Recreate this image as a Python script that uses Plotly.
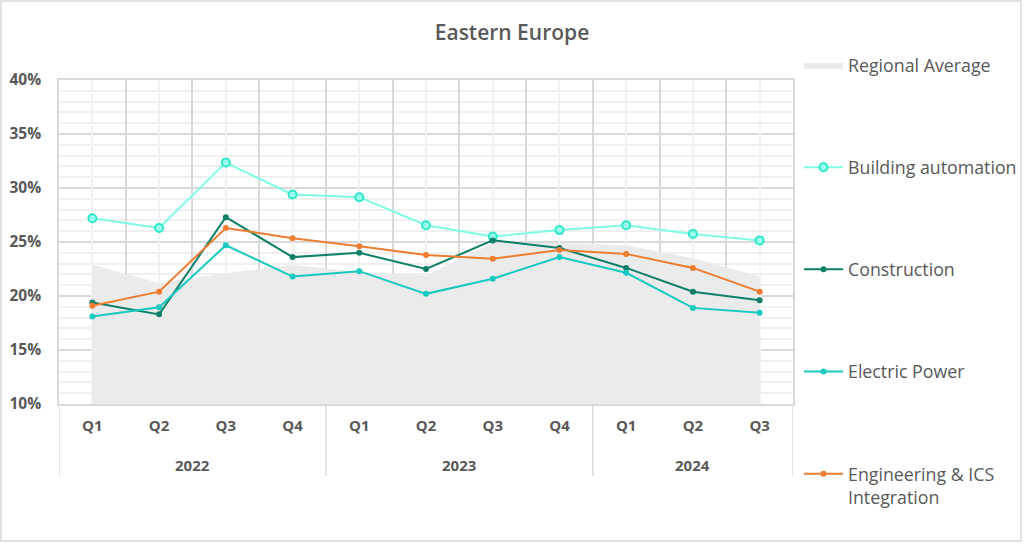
import plotly.graph_objects as go

years = ["2022"] * 4 + ["2023"] * 4 + ["2024"] * 3
quarters = ["Q1", "Q2", "Q3", "Q4", "Q1", "Q2", "Q3", "Q4", "Q1", "Q2", "Q3"]

regional_average = [22.9, 21.2, 22.1, 22.9, 22.2, 21.9, 24.9, 24.9, 24.7, 23.5, 21.8]
building_automation = [27.2, 26.3, 32.35, 29.4, 29.15, 26.55, 25.5, 26.1, 26.55, 25.75, 25.15]
construction = [19.4, 18.3, 27.3, 23.6, 24.0, 22.5, 25.15, 24.45, 22.6, 20.4, 19.6]
electric_power = [18.1, 18.95, 24.7, 21.8, 22.3, 20.2, 21.6, 23.6, 22.15, 18.9, 18.45]
engineering = [19.1, 20.4, 26.3, 25.35, 24.6, 23.8, 23.45, 24.25, 23.9, 22.6, 20.4]

flat_labels = [f"{y} {q}" for y, q in zip(years, quarters)]

# year groups (derived from the years list): name, start index, end index
groups = []
for i, yv in enumerate(years):
    if groups and groups[-1][0] == yv:
        groups[-1][2] = i
    else:
        groups.append([yv, i, i])

FONT = "Open Sans"
TXT = "#595959"
GRID = "#D9D9D9"

fig = go.Figure()

# invisible helper trace for the light vertical gridlines at category centres
fig.add_trace(go.Scatter(x=flat_labels, y=regional_average, xaxis="x2", mode="lines",
                         line=dict(width=0), opacity=0, showlegend=False, hoverinfo="skip"))

fig.add_trace(go.Scatter(x=flat_labels, y=regional_average, name="Regional Average", mode="lines",
                         fill="tozeroy", fillcolor="#EBEBEB", line=dict(width=0, color="#EBEBEB"),
                         legendgroup="a"))
fig.add_trace(go.Scatter(x=flat_labels, y=building_automation, name="Building automation",
                         mode="lines+markers", line=dict(color="#7DFCE6", width=2),
                         marker=dict(size=8, color="#9CFFEE", line=dict(color="#2DE8C9", width=2)),
                         legendgroup="b"))
fig.add_trace(go.Scatter(x=flat_labels, y=construction, name="Construction", mode="lines+markers",
                         line=dict(color="#0E8068", width=2),
                         marker=dict(size=6, color="#0E8068"),
                         legendgroup="c"))
fig.add_trace(go.Scatter(x=flat_labels, y=electric_power, name="Electric Power", mode="lines+markers",
                         line=dict(color="#17C9BF", width=2),
                         marker=dict(size=6, color="#17C9BF"),
                         legendgroup="d"))
fig.add_trace(go.Scatter(x=flat_labels, y=engineering, name="Engineering & ICS<br>Integration",
                         mode="lines+markers", line=dict(color="#EE7D31", width=2),
                         marker=dict(size=6, color="#EE7D31"),
                         legendgroup="e"))

fig.update_layout(
    width=1024, height=544,
    margin=dict(l=59, r=231, t=80, b=140, autoexpand=False),
    paper_bgcolor="white", plot_bgcolor="white",
    font=dict(family=FONT, color=TXT, size=15),
    title=dict(text="Eastern Europe", x=0.5, xref="container", xanchor="center",
               y=1 - 33 / 544, yref="container", yanchor="middle",
               font=dict(family=FONT, size=21, color=TXT, weight=600)),
    showlegend=True,
    legend=dict(x=(799 - 59) / 734, xanchor="left", y=(404 - 47) / 324, yanchor="top",
                font=dict(family=FONT, size=17.8, color=TXT),
                tracegroupgap=76, valign="top", itemwidth=39, maxheight=530,
                bgcolor="rgba(0,0,0,0)"),
    xaxis=dict(type="category", categoryorder="array", categoryarray=flat_labels,
               tickmode="array", tickvals=flat_labels, ticktext=quarters,
               showgrid=True, gridcolor=GRID, gridwidth=1.5, tickson="boundaries",
               showline=True, linecolor=GRID, linewidth=1.5, mirror=True,
               ticks="", ticklabelstandoff=7,
               tickfont=dict(family=FONT, size=15, color=TXT, weight="bold"),
               range=[-0.5, len(flat_labels) - 0.5]),
    xaxis2=dict(type="category", overlaying="x", showgrid=True, gridcolor="#F2F2F2", gridwidth=1.5,
                showticklabels=False, ticks="", showline=False,
                range=[-0.5, len(flat_labels) - 0.5],
                categoryorder="array", categoryarray=flat_labels, side="bottom"),
    yaxis=dict(range=[10, 40], dtick=5, ticksuffix="%", showgrid=True, gridcolor=GRID,
               gridwidth=1.5, showline=True, linecolor=GRID, linewidth=1.5, mirror=True,
               zeroline=False, ticks="", ticklabelstandoff=13,
               tickfont=dict(family=FONT, size=15.5, color=TXT, weight="bold"),
               minor=dict(dtick=1, showgrid=True, gridcolor="#F0F0F0", gridwidth=1.5)),
)

# year labels and group dividers below the quarter labels
for name, i0, i1 in groups:
    fig.add_annotation(x=(i0 + i1) / 2, y=-0.188, xref="x", yref="paper", text=name,
                       showarrow=False, yanchor="middle",
                       font=dict(family=FONT, size=15, color=TXT, weight="bold"))
boundaries = [g[1] - 0.5 for g in groups] + [groups[-1][2] + 0.5]
for b in boundaries:
    fig.add_shape(type="line", xref="x", yref="paper", x0=b, x1=b, y0=0, y1=-0.222,
                  line=dict(color=GRID, width=1.5))

# outer chart border
fig.add_shape(type="rect", xref="paper", yref="paper",
              x0=(1 - 59) / 734, x1=(1021 - 59) / 734, y0=(404 - 541) / 324, y1=(404 - 1) / 324,
              line=dict(color=GRID, width=1.5), fillcolor="rgba(0,0,0,0)", layer="below")

fig.write_html("out.html", config={"displayModeBar": False},
               post_script="document.body.style.margin='0';document.body.style.overflow='hidden';")
